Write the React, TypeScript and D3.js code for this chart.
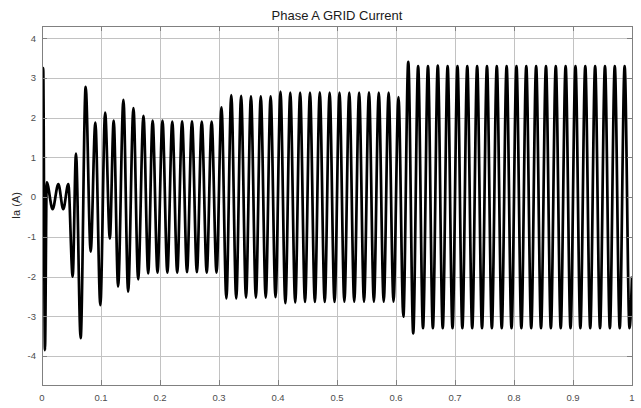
import { useEffect, useRef } from 'react'
import * as d3 from 'd3'

const width = 641
const height = 408
const margin = { top: 26, right: 9, bottom: 23, left: 42 }

const xTicks = [0, 0.1, 0.2, 0.3, 0.4, 0.5, 0.6, 0.7, 0.8, 0.9, 1]
const yTicks = [-4, -3, -2, -1, 0, 1, 2, 3, 4]
const xTickLabels = ['0', '0.1', '0.2', '0.3', '0.4', '0.5', '0.6', '0.7', '0.8', '0.9', '1']
const yTickLabels = ['-4', '-3', '-2', '-1', '0', '1', '2', '3', '4']

// start-up transient: extrema of Ia
const transientTimes = [
  0, 0.002, 0.005, 0.008, 0.018, 0.0277, 0.036, 0.0446, 0.052, 0.0576, 0.0655,
  0.074, 0.0825, 0.0904, 0.0989, 0.107, 0.115, 0.1215, 0.129, 0.138, 0.146,
  0.155, 0.163, 0.172, 0.18,
]
const transientIa = [
  0, 3.25, -3.85, 0.37, -0.3, 0.33, -0.3, 0.33, -2.0, 1.1, -3.55, 2.78, -1.37,
  1.88, -2.72, 2.13, -1.04, 1.93, -2.25, 2.45, -2.38, 2.24, -2.07, 2.05, -1.92,
]

// 60 Hz part: peak / trough of every cycle
const steadyTimes = [
  0.1875, 0.1958, 0.2042, 0.2125, 0.2208, 0.2292, 0.2375, 0.2458, 0.2542, 0.2625,
  0.2708, 0.2792, 0.2875, 0.2958, 0.3042, 0.3125, 0.3208, 0.3292, 0.3375, 0.3458,
  0.3542, 0.3625, 0.3708, 0.3792, 0.3875, 0.3958, 0.4042, 0.4125, 0.4208, 0.4292,
  0.4375, 0.4458, 0.4542, 0.4625, 0.4708, 0.4792, 0.4875, 0.4958, 0.5042, 0.5125,
  0.5208, 0.5292, 0.5375, 0.5458, 0.5542, 0.5625, 0.5708, 0.5792, 0.5875, 0.5958,
  0.6042, 0.6125, 0.6208, 0.6292, 0.6375, 0.6458, 0.6542, 0.6625, 0.6708, 0.6792,
  0.6875, 0.6958, 0.7042, 0.7125, 0.7208, 0.7292, 0.7375, 0.7458, 0.7542, 0.7625,
  0.7708, 0.7792, 0.7875, 0.7958, 0.8042, 0.8125, 0.8208, 0.8292, 0.8375, 0.8458,
  0.8542, 0.8625, 0.8708, 0.8792, 0.8875, 0.8958, 0.9042, 0.9125, 0.9208, 0.9292,
  0.9375, 0.9458, 0.9542, 0.9625, 0.9708, 0.9792, 0.9875, 0.9958, 1.0,
]
const steadyIa = [
  1.93, -1.9, 1.93, -1.9, 1.9, -1.9, 1.91, -1.89, 1.91, -1.89,
  1.9, -1.9, 1.9, -1.9, 2.26, -2.55, 2.57, -2.55, 2.55, -2.53,
  2.54, -2.53, 2.54, -2.53, 2.54, -2.52, 2.66, -2.67, 2.63, -2.65,
  2.63, -2.64, 2.63, -2.64, 2.64, -2.64, 2.63, -2.64, 2.63, -2.63,
  2.63, -2.63, 2.63, -2.63, 2.64, -2.63, 2.63, -2.63, 2.63, -2.63,
  2.52, -3.01, 3.41, -3.43, 3.3, -3.3, 3.3, -3.3, 3.31, -3.3,
  3.3, -3.3, 3.3, -3.3, 3.3, -3.3, 3.3, -3.3, 3.3, -3.3,
  3.3, -3.3, 3.3, -3.3, 3.3, -3.3, 3.3, -3.3, 3.3, -3.3,
  3.3, -3.3, 3.3, -3.3, 3.3, -3.3, 3.3, -3.3, 3.3, -3.3,
  3.3, -3.3, 3.3, -3.3, 3.3, -3.3, 3.3, -3.3, -2.0,
]

const FONT = '"Liberation Sans", Arial, sans-serif'

function App() {
  const ref = useRef<SVGSVGElement>(null)

  useEffect(() => {
    const svg = d3.select(ref.current)
    svg.selectAll('*').remove()

    const x = d3.scaleLinear().domain([0, 1]).range([margin.left, width - margin.right])
    const y = d3.scaleLinear().domain([-4.73, 4.31]).range([height - margin.bottom, margin.top])

    const [x0, x1] = x.range()
    const [y0, y1] = y.range()

    const data = [
      ...transientTimes.map((t, i) => ({ t, v: transientIa[i] })),
      ...steadyTimes.map((t, i) => ({ t, v: steadyIa[i] })),
    ]

    svg.append('rect').attr('x', x0).attr('y', y1).attr('width', x1 - x0).attr('height', y0 - y1).attr('fill', '#fff')

    // grid
    const grid = svg.append('g').attr('stroke', '#c2c2c2').attr('stroke-width', 1)
    grid.selectAll('.gx').data(xTicks.slice(1, -1)).join('line')
      .attr('x1', (d) => Math.round(x(d)) + 0.5).attr('x2', (d) => Math.round(x(d)) + 0.5)
      .attr('y1', y1).attr('y2', y0)
    grid.selectAll('.gy').data(yTicks).join('line')
      .attr('y1', (d) => Math.round(y(d)) + 0.5).attr('y2', (d) => Math.round(y(d)) + 0.5)
      .attr('x1', x0).attr('x2', x1)

    svg.append('clipPath').attr('id', 'plot-clip').append('rect')
      .attr('x', x0).attr('y', y1).attr('width', x1 - x0).attr('height', y0 - y1)

    const line = d3.line<{ t: number; v: number }>()
      .x((d) => x(d.t))
      .y((d) => y(d.v))
      .curve(d3.curveMonotoneX)

    svg.append('path')
      .datum(data)
      .attr('clip-path', 'url(#plot-clip)')
      .attr('fill', 'none')
      .attr('stroke', '#000')
      .attr('stroke-width', 2.7)
      .attr('stroke-linejoin', 'round')
      .attr('d', line)

    // box + inward ticks
    const axisColor = '#808080'
    svg.append('rect')
      .attr('x', x0 + 0.5).attr('y', y1 + 0.5).attr('width', x1 - x0).attr('height', y0 - y1)
      .attr('fill', 'none').attr('stroke', axisColor)
    const ticks = svg.append('g').attr('stroke', axisColor)
    xTicks.forEach((d) => {
      const px = Math.round(x(d)) + 0.5
      ticks.append('line').attr('x1', px).attr('x2', px).attr('y1', y0).attr('y2', y0 - 5)
      ticks.append('line').attr('x1', px).attr('x2', px).attr('y1', y1).attr('y2', y1 + 5)
    })
    yTicks.forEach((d) => {
      const py = Math.round(y(d)) + 0.5
      ticks.append('line').attr('y1', py).attr('y2', py).attr('x1', x0).attr('x2', x0 + 5)
      ticks.append('line').attr('y1', py).attr('y2', py).attr('x1', x1).attr('x2', x1 - 5)
    })

    svg.append('g').selectAll('text').data(xTicks).join('text')
      .attr('x', (d) => x(d)).attr('y', y0 + 16)
      .attr('text-anchor', 'middle')
      .attr('font-family', FONT).attr('font-size', 9.5).attr('fill', '#4d4d4d')
      .text((d, i) => xTickLabels[i])

    svg.append('g').selectAll('text').data(yTicks).join('text')
      .attr('x', x0 - 6).attr('y', (d) => y(d))
      .attr('dy', '0.35em')
      .attr('text-anchor', 'end')
      .attr('font-family', FONT).attr('font-size', 9.5).attr('fill', '#4d4d4d')
      .text((d, i) => yTickLabels[i])

    svg.append('text')
      .attr('x', (x0 + x1) / 2).attr('y', 20)
      .attr('text-anchor', 'middle')
      .attr('font-family', FONT).attr('font-size', 13).attr('fill', '#1a1a1a')
      .text('Phase A GRID Current')

    svg.append('text')
      .attr('transform', `translate(20,${(y0 + y1) / 2}) rotate(-90)`)
      .attr('text-anchor', 'middle')
      .attr('font-family', FONT).attr('font-size', 11).attr('fill', '#262626')
      .text('Ia (A)')
  }, [])

  return (
    <svg
      ref={ref}
      width={width}
      height={height}
      style={{ position: 'absolute', left: 0, top: 0, background: '#fff' }}
    />
  )
}

export default App
